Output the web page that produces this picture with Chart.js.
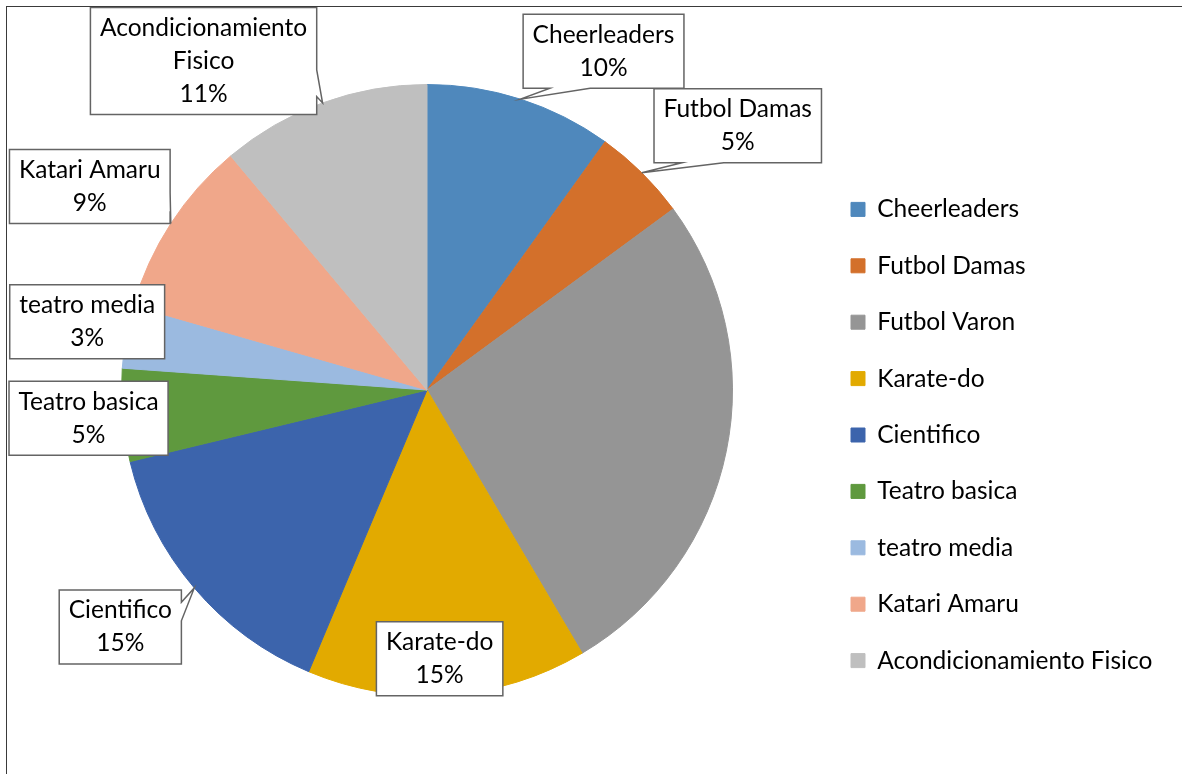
<!DOCTYPE html>
<html>
<head>
<meta charset="utf-8">
<title>Actividades</title>
<script src="https://cdn.jsdelivr.net/npm/chart.js@4/dist/chart.umd.min.js"></script>
<style>
  html, body { margin: 0; padding: 0; background: #fff; overflow: hidden; }
  #wrap { position: relative; width: 1182px; height: 774px; }
  #frame {
    position: absolute; left: 6px; top: 6px; width: 1300px; height: 900px;
    border-left: 1.5px solid #3a3a3a; border-top: 1.5px solid #3a3a3a;
    pointer-events: none;
  }
  canvas { position: absolute; left: 0; top: 0; }
</style>
</head>
<body>
<div id="wrap">
  <canvas id="pieChart" width="1182" height="774"></canvas>
  <div id="frame"></div>
</div>
<script>
// data (share of students per activity, %)
const categories = [
  "Cheerleaders", "Futbol Damas", "Futbol Varon", "Karate-do", "Cientifico",
  "Teatro basica", "teatro media", "Katari Amaru", "Acondicionamiento Fisico"
];
const shares = [9.9, 5.0, 26.6, 14.8, 14.9, 4.9, 3.3, 9.45, 11.1];
const showLabel = [true, true, false, true, true, true, true, true, true];

const colors = [
  "#4F88BC", "#D3702B", "#959595", "#E2AA00", "#3C64AC",
  "#5F993E", "#9BBAE0", "#F0A78A", "#BFBFBF"
];

// where each callout box sits, relative to the arc edge at the slice middle
const calloutShift = [
  [83, -48], [96, -47], null, [-8, -36], [-74, 39],
  [-34, 3], [-39, -15], [-81, -37], [-119, -42]
];

const FONT = "Lato";
const FONT_SIZE = 24.5;
const LINE_H = 33;
const LEGEND_BOX = 14;
const LEGEND_PAD = 56.4 - FONT_SIZE;

// measure the longest legend text so the pie lands where it should
const mctx = document.createElement("canvas").getContext("2d");
mctx.font = "normal " + FONT_SIZE + "px " + FONT;
const longest = Math.max(...categories.map(c => mctx.measureText(c).width));
const legendLeft = 851 - LEGEND_PAD;
// chart.js adds 10px to a vertical legend's width
const legendWidth = LEGEND_PAD + LEGEND_BOX + FONT_SIZE / 2 + longest + 10;
const padRight = Math.max(0, 1182 - legendLeft - legendWidth);
const padLeft = 2 * 427 - legendLeft;

function wrapName(ctx, name) {
  if (ctx.measureText(name).width <= 230) return [name];
  const words = name.split(" ");
  return [words.slice(0, -1).join(" "), words[words.length - 1]];
}

const callouts = {
  id: "callouts",
  afterLayout(chart) {
    // Excel puts the legend a bit lower than the middle of the pie
    const lg = chart.legend;
    lg.top += 45;
    lg.bottom += 45;
  },
  afterDatasetsDraw(chart) {
    const ctx = chart.ctx;
    const meta = chart.getDatasetMeta(0);
    const total = shares.reduce((a, b) => a + b, 0);
    ctx.save();
    ctx.font = "normal " + FONT_SIZE + "px " + FONT;
    ctx.textAlign = "center";
    ctx.textBaseline = "middle";

    meta.data.forEach((arc, i) => {
      if (!showLabel[i] || !calloutShift[i]) return;
      const p = arc.getProps(["x", "y", "startAngle", "endAngle", "outerRadius"], true);
      const mid = (p.startAngle + p.endAngle) / 2;
      const ax = p.x + Math.cos(mid) * p.outerRadius;
      const ay = p.y + Math.sin(mid) * p.outerRadius;

      const lines = wrapName(ctx, categories[i]);
      lines.push(Math.round(shares[i] / total * 100) + "%");
      const tw = Math.max(...lines.map(l => ctx.measureText(l).width));
      const w = tw + 19;
      const h = lines.length * LINE_H + 8;
      const cx = ax + calloutShift[i][0];
      const cy = ay + calloutShift[i][1];
      const L = cx - w / 2, R = cx + w / 2, T = cy - h / 2, B = cy + h / 2;

      // outline, with a wedge pointing at the slice when the point is outside
      const inside = ax >= L && ax <= R && ay >= T && ay <= B;
      let side = null;
      if (!inside) {
        const nx = (ax - cx) / w, ny = (ay - cy) / h;
        if (Math.abs(nx) > Math.abs(ny)) side = nx > 0 ? "right" : "left";
        else side = ny > 0 ? "bottom" : "top";
      }
      ctx.beginPath();
      ctx.moveTo(L, T);
      if (side === "top") {
        const a = ax < cx ? [L + w / 6, L + w * 5 / 12] : [L + w * 7 / 12, L + w * 5 / 6];
        ctx.lineTo(a[0], T); ctx.lineTo(ax, ay); ctx.lineTo(a[1], T);
      }
      ctx.lineTo(R, T);
      if (side === "right") {
        const a = ay < cy ? [T + h / 6, T + h * 5 / 12] : [T + h * 7 / 12, T + h * 5 / 6];
        ctx.lineTo(R, a[0]); ctx.lineTo(ax, ay); ctx.lineTo(R, a[1]);
      }
      ctx.lineTo(R, B);
      if (side === "bottom") {
        const a = ax < cx ? [L + w / 6, L + w * 5 / 12] : [L + w * 7 / 12, L + w * 5 / 6];
        ctx.lineTo(a[1], B); ctx.lineTo(ax, ay); ctx.lineTo(a[0], B);
      }
      ctx.lineTo(L, B);
      if (side === "left") {
        const a = ay < cy ? [T + h / 6, T + h * 5 / 12] : [T + h * 7 / 12, T + h * 5 / 6];
        ctx.lineTo(L, a[1]); ctx.lineTo(ax, ay); ctx.lineTo(L, a[0]);
      }
      ctx.closePath();
      ctx.fillStyle = "#fff";
      ctx.fill();
      ctx.lineWidth = 1.5;
      ctx.strokeStyle = "#646464";
      ctx.stroke();

      ctx.fillStyle = "#000";
      const y0 = cy - (lines.length - 1) * LINE_H / 2;
      lines.forEach((l, k) => ctx.fillText(l, cx, y0 + k * LINE_H));
    });
    ctx.restore();
  }
};

new Chart(document.getElementById("pieChart"), {
  type: "pie",
  data: {
    labels: categories,
    datasets: [{
      data: shares,
      backgroundColor: colors,
      borderColor: colors,
      borderWidth: 1
    }]
  },
  options: {
    responsive: false,
    animation: false,
    layout: { padding: { top: 84, bottom: 78, left: padLeft, right: padRight } },
    plugins: {
      tooltip: { enabled: false },
      legend: {
        position: "right",
        labels: {
          boxWidth: LEGEND_BOX,
          boxHeight: LEGEND_BOX,
          padding: LEGEND_PAD,
          color: "#000",
          font: { family: FONT, size: FONT_SIZE }
        }
      }
    }
  },
  plugins: [callouts]
});
</script>
</body>
</html>
